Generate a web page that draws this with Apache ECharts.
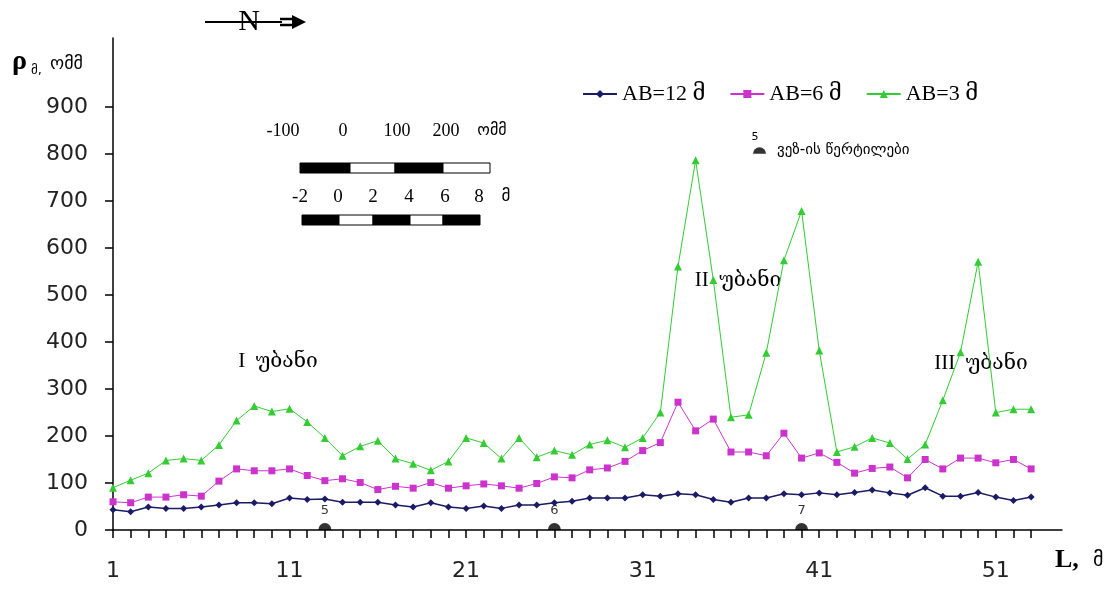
<!DOCTYPE html>
<html>
<head>
<meta charset="utf-8">
<script src="https://cdn.jsdelivr.net/npm/echarts@6/dist/echarts.min.js"></script>
<style>html,body{margin:0;padding:0;background:#fff}#main{width:1119px;height:590px}</style>
</head>
<body>
<div id="main"></div>
<script>
var positions = [];
for (var k = 1; k <= 53; k++) positions.push(k);

var ab12 = [43, 39, 49, 46, 46, 49, 53, 58, 58, 56, 68, 65, 66, 59, 59, 59,
	53, 49, 58, 49, 46, 51, 46, 53, 53, 58, 61, 68, 68, 68, 75, 72,
	77, 75, 65, 59, 68, 68, 77, 75, 79, 75, 80, 85, 79, 74, 90, 72, 72, 80, 70, 63, 70];
var ab6 = [60, 58, 70, 70, 75, 72, 104, 130, 126, 126, 130, 116, 105, 109, 101, 86,
	93, 89, 101, 89, 94, 98, 94, 89, 99, 113, 111, 128, 132, 146, 169, 186,
	272, 211, 236, 166, 166, 158, 206, 153, 164, 144, 121, 131, 134, 111, 150, 130, 153, 153, 143, 150, 130];
var ab3 = [90, 106, 121, 148, 152, 148, 181, 233, 264, 252, 258, 230, 196, 158, 178, 190,
	152, 141, 127, 146, 196, 185, 152, 196, 155, 169, 160, 182, 191, 176, 196, 250,
	561, 787, 532, 240, 245, 377, 574, 679, 382, 166, 177, 196, 185, 151, 182, 276, 378, 571, 250, 257, 257];
var xTickLabels = [1, 11, 21, 31, 41, 51];
var yTickLabels = [0, 100, 200, 300, 400, 500, 600, 700, 800, 900];
var vezPositions = [13, 26, 40];
var vezNames = ['5', '6', '7'];

function pairs(vals) {
	return vals.map(function (v, i) { return [positions[i], v]; });
}

var serif = "'Liberation Serif', 'DejaVu Serif', 'DejaVu Sans'";
var sans = "'DejaVu Sans', sans-serif";
var dome = 'path://M0,10 A10,10 0 0 1 20,10 Z';

function txt(s, x, y, font, align) {
	return { type: 'text', x: x, y: y, style: { text: s, font: font, fill: '#000', align: align || 'center', verticalAlign: 'middle' } };
}
function box(x1, x2, y, h, black) {
	return { type: 'rect', shape: { x: x1, y: y, width: x2 - x1, height: h },
		style: { fill: black ? '#000' : '#fff', stroke: '#000', lineWidth: 1 } };
}

var myChart = echarts.init(document.getElementById('main'));

var option = {
	backgroundColor: '#fff',
	animation: false,
	grid: { left: 113, top: 38, right: 57, bottom: 60 },
	legend: [
		{
			data: ['AB=12 მ', 'AB=6 მ', 'AB=3 მ'],
			left: 577, top: 78,
			itemWidth: 34, itemHeight: 10, itemGap: 24,
			textStyle: { fontFamily: serif, fontSize: 22, color: '#000' }
		},
		{
			data: ['ვეზ-ის წერტილები'],
			left: 748, top: 138,
			itemWidth: 13, itemHeight: 8,
			textStyle: { fontFamily: sans, fontSize: 15, color: '#000', padding: [0, 0, 0, 6] }
		}
	],
	xAxis: {
		type: 'value',
		min: 1,
		max: 54.75,
		axisLine: { lineStyle: { color: '#000', width: 1.5 } },
		axisTick: { length: 8, lineStyle: { color: '#000', width: 1.5 }, customValues: positions },
		axisLabel: { customValues: xTickLabels, margin: 30, fontFamily: sans, fontSize: 22, color: '#222' },
		splitLine: { show: false }
	},
	yAxis: {
		type: 'value',
		min: 0,
		max: 1047,
		axisLine: { show: true, lineStyle: { color: '#000', width: 1.5 } },
		axisTick: { show: true, length: 8, lineStyle: { color: '#000', width: 1.5 }, customValues: yTickLabels },
		axisLabel: { customValues: yTickLabels, margin: 25, fontFamily: sans, fontSize: 22, color: '#222' },
		splitLine: { show: false }
	},
	series: [
		{
			name: 'AB=12 მ', type: 'line', data: pairs(ab12),
			symbol: 'diamond', symbolSize: 7,
			lineStyle: { color: '#1a1a66', width: 1.5 },
			itemStyle: { color: '#1a1a66' }
		},
		{
			name: 'AB=6 მ', type: 'line', data: pairs(ab6),
			symbol: 'rect', symbolSize: 7,
			lineStyle: { color: '#cc33cc', width: 1 },
			itemStyle: { color: '#cc33cc' }
		},
		{
			name: 'AB=3 მ', type: 'line', data: pairs(ab3),
			symbol: 'triangle', symbolSize: 8,
			lineStyle: { color: '#33cc33', width: 1 },
			itemStyle: { color: '#33cc33' }
		},
		{
			name: 'ვეზ-ის წერტილები', type: 'scatter',
			data: vezPositions.map(function (p) { return [p, 0]; }),
			symbol: dome, symbolSize: [13, 7], symbolOffset: [0, -3.5],
			itemStyle: { color: '#000' },
			label: {
				show: true, position: 'top', distance: 6,
				formatter: function (p) { return vezNames[p.dataIndex]; },
				fontFamily: sans, fontSize: 13, color: '#000'
			}
		}
	],
	graphic: [
		// north arrow
		{ type: 'line', shape: { x1: 205, y1: 22, x2: 282, y2: 22 }, style: { stroke: '#000', lineWidth: 2 } },
		txt('N', 249, 22, 'normal 30px ' + serif),
		{ type: 'line', shape: { x1: 280, y1: 19, x2: 296, y2: 19 }, style: { stroke: '#000', lineWidth: 2.5 } },
		{ type: 'line', shape: { x1: 280, y1: 25, x2: 296, y2: 25 }, style: { stroke: '#000', lineWidth: 2.5 } },
		{ type: 'polygon', shape: { points: [[292, 15], [306, 22], [292, 29]] }, style: { fill: '#000' } },
		// scale bars
		txt('-100', 283, 131, '18px ' + serif), txt('0', 343, 131, '18px ' + serif),
		txt('100', 397, 131, '18px ' + serif), txt('200', 446, 131, '18px ' + serif),
		txt('ომმ', 492, 131, '16px ' + sans),
		box(300, 350, 163, 10, true), box(350, 395, 163, 10, false),
		box(395, 443, 163, 10, true), box(443, 490, 163, 10, false),
		txt('-2', 300, 197, '19px ' + serif), txt('0', 338, 197, '19px ' + serif),
		txt('2', 373, 197, '19px ' + serif), txt('4', 409, 197, '19px ' + serif),
		txt('6', 445, 197, '19px ' + serif), txt('8', 479, 197, '19px ' + serif),
		txt('მ', 506, 197, '17px ' + sans),
		box(302, 339, 215, 10, true), box(339, 373, 215, 10, false),
		box(373, 410, 215, 10, true), box(410, 443, 215, 10, false),
		box(443, 480, 215, 10, true),
		// legend superscript
		txt('5', 755, 137, '11px ' + sans),
		// zone labels
		txt('I  უბანი', 278, 361, '21px ' + serif),
		txt('II  უბანი', 738, 280, '21px ' + serif),
		txt('III  უბანი', 981, 363, '21px ' + serif),
		// axis titles
		txt('ρ', 12, 62, 'bold 28px ' + serif, 'left'),
		txt('მ,', 31, 71, '13px ' + sans, 'left'),
		txt('ომმ', 50, 64, '18px ' + sans, 'left'),
		txt('L,', 1055, 560, 'bold 26px ' + serif, 'left'),
		txt('მ', 1093, 561, '20px ' + sans, 'left')
	]
};

myChart.setOption(option);
</script>
</body>
</html>
